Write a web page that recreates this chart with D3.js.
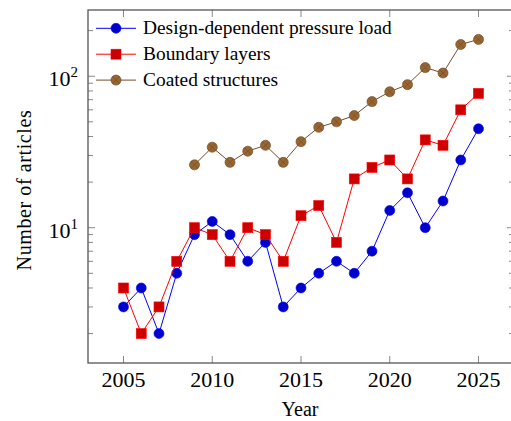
<!DOCTYPE html>
<html>
<head>
<meta charset="utf-8">
<script src="https://cdn.jsdelivr.net/npm/d3@7"></script>
<style>
  body { margin: 0; background: #fff; }
  text { font-family: "Liberation Serif", "Times New Roman", serif; fill: #000; }
</style>
</head>
<body>
<div id="chart"></div>
<script>
// data
const years = [2005, 2006, 2007, 2008, 2009, 2010, 2011, 2012, 2013, 2014, 2015,
               2016, 2017, 2018, 2019, 2020, 2021, 2022, 2023, 2024, 2025];
const designLoad = [3, 4, 2, 5, 9, 11, 9, 6, 8, 3, 4, 5, 6, 5, 7, 13, 17, 10, 15, 28, 45];
const boundaryLayers = [4, 2, 3, 6, 10, 9, 6, 10, 9, 6, 12, 14, 8, 21, 25, 28, 21, 38, 35, 60, 77];
const coatedYears = [2009, 2010, 2011, 2012, 2013, 2014, 2015, 2016, 2017,
                     2018, 2019, 2020, 2021, 2022, 2023, 2024, 2025];
const coated = [26, 34, 27, 32, 35, 27, 37, 46, 50, 55, 68, 79, 88, 114, 105, 162, 175];
const xTicks = [2005, 2010, 2015, 2020, 2025];
const yTicks = [10, 100];
const seriesNames = ["Design-dependent pressure load", "Boundary layers", "Coated structures"];

const W = 511, H = 421;
const margin = { left: 88, top: 10, right: -3, bottom: 58 };

const series = [
  { name: seriesNames[0], xs: years, ys: designLoad, line: "#0000ff", fill: "#0000cc", mark: "circle" },
  { name: seriesNames[1], xs: years, ys: boundaryLayers, line: "#ff0000", fill: "#cc0000", mark: "square" },
  { name: seriesNames[2], xs: coatedYears, ys: coated, line: "#734d26", fill: "#996633", mark: "otimes" }
];

const svg = d3.select("#chart").append("svg")
  .attr("width", W).attr("height", H);

// pgfplots-like enlarged limits (10% each side)
const xMin = d3.min(years), xMax = d3.max(years);
const xPad = (xMax - xMin) * 0.1;
const allY = designLoad.concat(boundaryLayers, coated);
const lMin = Math.log10(d3.min(allY)), lMax = Math.log10(d3.max(allY));
const lPad = (lMax - lMin) * 0.1;

const x = d3.scaleLinear()
  .domain([xMin - xPad, xMax + xPad])
  .range([margin.left, W - margin.right]);
const y = d3.scaleLog()
  .domain([Math.pow(10, lMin - lPad), Math.pow(10, lMax + lPad)])
  .range([H - margin.bottom, margin.top]);

const x0 = x.range()[0], x1 = x.range()[1];
const y0 = y.range()[0], y1 = y.range()[1];
const axisColor = "#555";

// minor ticks for the log axis
const minor = [];
for (let k = -1; k <= 3; k++) {
  for (let m = 2; m <= 9; m++) {
    const v = m * Math.pow(10, k);
    if (v > y.domain()[0] && v < y.domain()[1]) minor.push(v);
  }
}

const ticks = svg.append("g").attr("stroke", "#888").attr("stroke-width", 1);
ticks.selectAll(".minl").data(minor).enter().append("line")
  .attr("x1", x0).attr("x2", x0 + 5)
  .attr("y1", d => y(d)).attr("y2", d => y(d));
ticks.selectAll(".minr").data(minor).enter().append("line")
  .attr("x1", x1).attr("x2", x1 - 5)
  .attr("y1", d => y(d)).attr("y2", d => y(d));
ticks.selectAll(".majl").data(yTicks).enter().append("line")
  .attr("x1", x0).attr("x2", x0 + 7)
  .attr("y1", d => y(d)).attr("y2", d => y(d));
ticks.selectAll(".majr").data(yTicks).enter().append("line")
  .attr("x1", x1).attr("x2", x1 - 7)
  .attr("y1", d => y(d)).attr("y2", d => y(d));
ticks.selectAll(".xb").data(xTicks).enter().append("line")
  .attr("x1", d => x(d)).attr("x2", d => x(d))
  .attr("y1", y0).attr("y2", y0 - 7);
ticks.selectAll(".xt").data(xTicks).enter().append("line")
  .attr("x1", d => x(d)).attr("x2", d => x(d))
  .attr("y1", y1).attr("y2", y1 + 7);

// frame
svg.append("rect")
  .attr("x", x0).attr("y", y1)
  .attr("width", x1 - x0).attr("height", y0 - y1)
  .attr("fill", "none").attr("stroke", axisColor).attr("stroke-width", 1.3);

// tick labels
svg.selectAll(".xlab").data(xTicks).enter().append("text")
  .attr("x", d => x(d)).attr("y", y0 + 24)
  .attr("text-anchor", "middle")
  .style("font-size", "22px")
  .text(d => d);

const ylab = svg.selectAll(".ylab").data(yTicks).enter().append("text")
  .attr("x", x0 - 10).attr("y", d => y(d) + 10)
  .attr("text-anchor", "end")
  .style("font-size", "22px");
ylab.append("tspan").text("10");
ylab.append("tspan").attr("dy", -9).style("font-size", "15px")
  .text(d => Math.round(Math.log10(d)));

// axis titles
svg.append("text")
  .attr("x", 300).attr("y", 416)
  .attr("text-anchor", "middle")
  .style("font-size", "20px")
  .text("Year");
svg.append("text")
  .attr("transform", `translate(31,190) rotate(-90)`)
  .attr("text-anchor", "middle")
  .style("font-size", "20px")
  .style("letter-spacing", "0.6px")
  .text("Number of articles");

// marks
function drawMark(g, s, cx, cy) {
  if (s.mark === "circle") {
    g.append("circle").attr("cx", cx).attr("cy", cy).attr("r", 5)
      .attr("fill", s.fill).attr("stroke", s.line).attr("stroke-width", 0.6);
  } else if (s.mark === "square") {
    g.append("rect").attr("x", cx - 5).attr("y", cy - 5)
      .attr("width", 10).attr("height", 10)
      .attr("fill", s.fill).attr("stroke", s.line).attr("stroke-width", 0.6);
  } else {
    g.append("circle").attr("cx", cx).attr("cy", cy).attr("r", 5)
      .attr("fill", s.fill).attr("stroke", s.line).attr("stroke-width", 0.7);
    const r = 5 * Math.SQRT1_2;
    g.append("path")
      .attr("d", `M${cx - r},${cy - r}L${cx + r},${cy + r}M${cx - r},${cy + r}L${cx + r},${cy - r}`)
      .attr("stroke", s.line).attr("stroke-width", 0.7);
  }
}

const line = d3.line().x(d => x(d[0])).y(d => y(d[1]));

series.forEach(s => {
  const pts = s.xs.map((v, i) => [v, s.ys[i]]);
  svg.append("path").datum(pts)
    .attr("d", line)
    .attr("fill", "none").attr("stroke", s.line).attr("stroke-width", 1);
  const g = svg.append("g");
  pts.forEach(p => drawMark(g, s, x(p[0]), y(p[1])));
});

// legend (no border)
const legend = svg.append("g");
series.forEach((s, i) => {
  const ly = 28.3 + i * 25.9;
  legend.append("line")
    .attr("x1", 96).attr("x2", 136).attr("y1", ly).attr("y2", ly)
    .attr("stroke", s.line).attr("stroke-width", 1);
  drawMark(legend, s, 116, ly);
  legend.append("text")
    .attr("x", 143).attr("y", ly + 6)
    .style("font-size", "19.4px")
    .text(s.name);
});
</script>
</body>
</html>
